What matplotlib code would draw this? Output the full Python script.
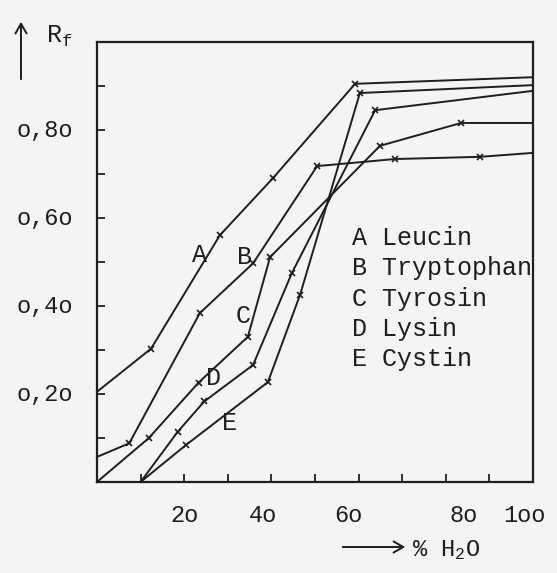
import matplotlib
matplotlib.use("Agg")
import matplotlib.pyplot as plt
import numpy as np

plt.rcParams['font.family'] = ['Liberation Mono', 'DejaVu Sans Mono']
plt.rcParams['mathtext.fontset'] = 'custom'
plt.rcParams['mathtext.rm'] = 'Liberation Mono'
plt.rcParams['mathtext.it'] = 'Liberation Mono'

# % H2O vs Rf
a_x = [0, 12.4, 28.2, 40.4, 59.2, 100]
a_y = [0.205, 0.303, 0.561, 0.691, 0.905, 0.92]
b_x = [0, 7.4, 23.6, 35.8, 50.5, 68.3, 87.8, 100]
b_y = [0.057, 0.088, 0.384, 0.497, 0.718, 0.734, 0.739, 0.748]
c_x = [0, 11.9, 23.3, 34.6, 39.7, 64.9, 83.5, 100]
c_y = [0.0, 0.10, 0.226, 0.33, 0.511, 0.764, 0.816, 0.816]
d_x = [10, 18.5, 24.6, 35.8, 44.7, 63.8, 100]
d_y = [0.0, 0.114, 0.183, 0.266, 0.475, 0.845, 0.889]
e_x = [10, 20.4, 39.2, 46.6, 60.3, 100]
e_y = [0.0, 0.084, 0.227, 0.426, 0.884, 0.902]

series = [(a_x, a_y), (b_x, b_y), (c_x, c_y), (d_x, d_y), (e_x, e_y)]
letters = ['A', 'B', 'C', 'D', 'E']
names = ['Leucin', 'Tryptophan', 'Tyrosin', 'Lysin', 'Cystin']
letter_pos = [(23.6, 0.516), (33.9, 0.511), (33.5, 0.377), (26.8, 0.236), (30.3, 0.134)]

yticks = [0.2, 0.4, 0.6, 0.8]
ytick_labels = ['o,2o', 'o,4o', 'o,6o', 'o,8o']
xlabel_pos = [20, 38, 57.6, 84, 98]
xtick_labels = ['2o', '4o', '6o', '8o', '1oo']

ink = '#1e1e1e'
paper = '#f4f4f2'

fig = plt.figure(figsize=(5.57, 5.73), dpi=100, facecolor=paper)
ax = fig.add_axes([0.1741, 0.1588, 0.7828, 0.7679], facecolor=paper)

for xs, ys in series:
    # markers only on points not sitting on a spine
    inner = [i for i in range(len(xs)) if 0 < xs[i] < 100 and ys[i] > 0]
    ax.plot(xs, ys, color=ink, lw=1.4, marker='x', ms=5, mew=1.2,
            markevery=inner, clip_on=False)

for (lx, ly), l in zip(letter_pos, letters):
    ax.text(lx, ly, l, fontsize=18, color=ink, ha='center', va='center')

for i, (l, n) in enumerate(zip(letters, names)):
    ax.text(0.585, 0.555 - i * 0.069, l + ' ' + n, transform=ax.transAxes,
            fontsize=18, color=ink, ha='left', va='center')

ax.set_xlim(0, 100)
ax.set_ylim(0, 1.0)
ax.set_xticks(np.arange(10, 100, 10))
ax.set_xticklabels([])
ax.set_yticks(np.arange(0.1, 0.95, 0.1))
ax.set_yticklabels([])
ax.tick_params(direction='in', length=6, width=1.3, color=ink)
for s in ax.spines.values():
    s.set_linewidth(1.6)
    s.set_color(ink)

for v, t in zip(yticks, ytick_labels):
    ax.text(-0.055, v, t, transform=ax.get_yaxis_transform(), fontsize=17,
            color=ink, ha='right', va='center')
for v, t in zip(xlabel_pos, xtick_labels):
    ax.text(v, -0.077, t, transform=ax.get_xaxis_transform(), fontsize=17,
            color=ink, ha='center', va='center')

# axis arrows and titles
fig.add_artist(matplotlib.patches.FancyArrowPatch(
    (21 / 557, 1 - 82 / 573), (21 / 557, 1 - 19 / 573), transform=fig.transFigure,
    arrowstyle='->,head_length=7,head_width=4', color=ink, lw=1.4))
fig.text(46 / 557, 1 - 36 / 573, r'R$_\mathrm{f}$', fontsize=18, color=ink,
         ha='left', va='center')
fig.add_artist(matplotlib.patches.FancyArrowPatch(
    (340 / 557, 1 - 547 / 573), (408 / 557, 1 - 547 / 573), transform=fig.transFigure,
    arrowstyle='->,head_length=7,head_width=4', color=ink, lw=1.4))
fig.text(412 / 557, 1 - 550 / 573, r'% H$_2$O', fontsize=17, color=ink,
         ha='left', va='center')

fig.savefig('out.png', dpi=100, facecolor=paper)
